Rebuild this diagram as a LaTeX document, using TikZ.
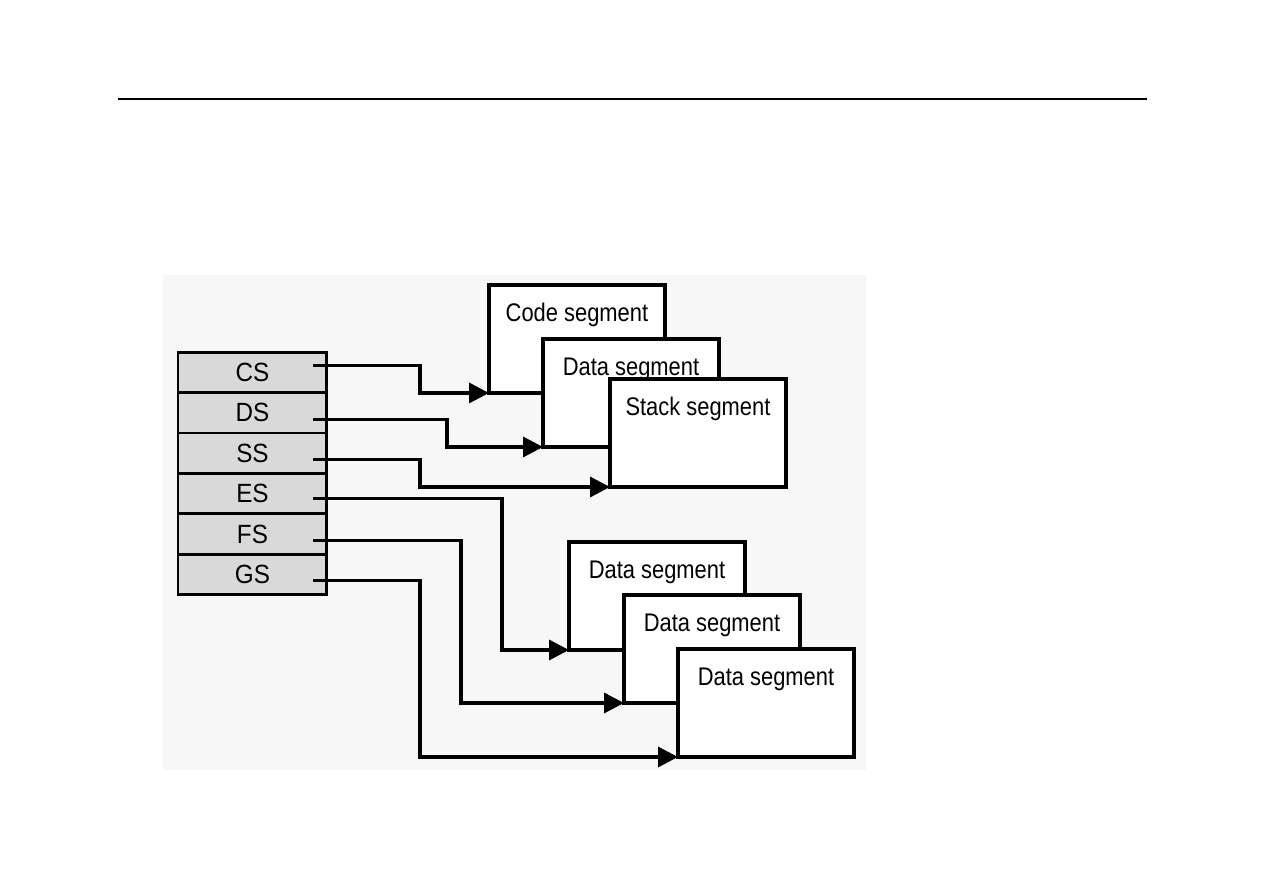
\documentclass[tikz,border=0pt]{standalone}
\usepackage{fontspec}
\setmainfont{Liberation Sans}
\newfontfamily\segfont[FakeStretch=0.86]{Liberation Sans}
\newfontfamily\regfont[FakeStretch=0.92]{Liberation Sans}
\usepackage{tikz}
\usetikzlibrary{arrows.meta, positioning}
\definecolor{regfill}{rgb}{0.85,0.85,0.85}
\definecolor{panel}{rgb}{0.97,0.97,0.97}

\begin{document}
\begin{tikzpicture}[
    x=0.02cm, y=-0.02cm,
    node distance=0cm,
    reg/.style={rectangle, draw, line width=1.7pt, fill=regfill, minimum width=2.98cm, minimum height=0.81cm, inner sep=0pt, outer sep=0pt, font=\regfont\fontsize{15}{17}\selectfont},
    seg/.style={rectangle, draw, line width=1.9pt, fill=white, minimum width=3.52cm, inner sep=0pt, outer sep=0pt, text height=0.73cm, text depth=1.43cm, font=\segfont\fontsize{14.5}{16}\selectfont, anchor=north west},
    conn/.style={line width=1.9pt, -{Triangle[length=0.4cm, width=0.4cm]}}
]
    \useasboundingbox (0,0) rectangle (1263,893);
    \draw[line width=0.9pt] (118,99) -- (1147,99);
    \fill[panel] (163,275) rectangle (866,770);

    % segment registers
    \node[reg, anchor=north west] (cs) at (178,352) {CS};
    \node[reg, below=of cs] (ds) {DS};
    \node[reg, below=of ds] (ss) {SS};
    \node[reg, below=of ss] (es) {ES};
    \node[reg, below=of es] (fs) {FS};
    \node[reg, below=of fs] (gs) {GS};

    % segments
    \node[seg] (code) at (489,285) {Code segment};
    \node[seg] (data) at (543,339) {Data segment};
    \node[seg] (stack) at (610,379) {Stack segment};
    \node[seg] (dataa) at (569,542) {Data segment};
    \node[seg] (datab) at (624,595) {Data segment};
    \node[seg] (datac) at (678,649) {Data segment};

    \draw[conn] ([xshift=-0.28cm, yshift=0.14cm]cs.east) -- ++(107,0) |- (code.south west);
    \draw[conn] ([xshift=-0.28cm, yshift=-0.14cm]ds.east) -- ++(134,0) |- (data.south west);
    \draw[conn] ([xshift=-0.28cm, yshift=-0.12cm]ss.east) -- ++(107,0) |- (stack.south west);

    % extra segments
    \draw[conn] ([xshift=-0.28cm, yshift=-0.1cm]es.east) -- ++(189,0) |- (dataa.south west);
    \draw[conn] ([xshift=-0.28cm, yshift=-0.12cm]fs.east) -- ++(148,0) |- (datab.south west);
    \draw[conn] ([xshift=-0.28cm, yshift=-0.12cm]gs.east) -- ++(107,0) |- (datac.south west);
\end{tikzpicture}
\end{document}
